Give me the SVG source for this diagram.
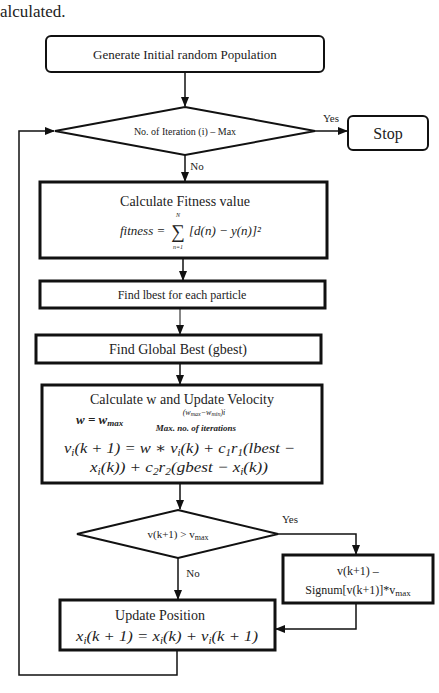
<svg xmlns="http://www.w3.org/2000/svg" width="439" height="693" viewBox="0 0 439 693">
<style>
.t{font-family:"Liberation Serif","Times New Roman",serif;fill:#222;text-anchor:middle}
.m{font-family:"Liberation Serif","DejaVu Serif",serif;font-style:italic;fill:#222}
.b2{fill:#fff;stroke:#111;stroke-width:2}
.b3{fill:#fff;stroke:#111;stroke-width:3}
.c{fill:none;stroke:#111;stroke-width:1.5}
</style>
<defs>
<marker id="ah" markerWidth="10" markerHeight="8" refX="9" refY="4" orient="auto" markerUnits="userSpaceOnUse">
<path d="M0,0 L10,4 L0,8 Z" fill="#111"/>
</marker>
</defs>
<text x="0" y="17" style="font-family:'Liberation Serif',serif;font-size:17px;fill:#222">alculated.</text>

<g id="connectors">
<line class="c" x1="185" y1="72" x2="185" y2="106" marker-end="url(#ah)"/>
<line class="c" x1="315" y1="131" x2="347" y2="131" marker-end="url(#ah)"/>
<line class="c" x1="185" y1="155" x2="185" y2="181" marker-end="url(#ah)"/>
<line class="c" x1="183" y1="258" x2="183" y2="280" marker-end="url(#ah)"/>
<line class="c" x1="180" y1="308" x2="180" y2="334" style="stroke-width:1" marker-end="url(#ah)"/>
<line class="c" x1="180" y1="363" x2="180" y2="384" marker-end="url(#ah)"/>
<line class="c" x1="180" y1="483" x2="180" y2="509" marker-end="url(#ah)"/>
<polyline class="c" points="278,534 356,534 356,554" marker-end="url(#ah)"/>
<polyline class="c" points="356,603 356,629 276,629" marker-end="url(#ah)"/>
<line class="c" x1="178" y1="558" x2="178" y2="599" marker-end="url(#ah)"/>
<polyline class="c" points="177,650 177,675 19,675 19,131 54,131" marker-end="url(#ah)"/>
<text class="t" x="331" y="122" style="font-size:11px">Yes</text>
<text class="t" x="197" y="170" style="font-size:11px">No</text>
<text class="t" x="290" y="523" style="font-size:11px">Yes</text>
<text class="t" x="193" y="577" style="font-size:11px">No</text>
</g>

<g id="start">
<rect class="b2" x="46" y="36" width="278" height="36" rx="5"/>
<text class="t" x="185" y="59" style="font-size:13px">Generate Initial random Population</text>
</g>

<g id="iter-check">
<polygon class="b2" points="185,107 315,131 185,155 55,131"/>
<text class="t" x="185" y="135" style="font-size:10px">No. of Iteration (i) – Max</text>
</g>

<g id="stop">
<rect class="b2" x="348" y="116" width="80" height="34" rx="5"/>
<text class="t" x="388" y="139" style="font-size:16px">Stop</text>
</g>

<g id="fitness">
<rect class="b3" x="40" y="182" width="287" height="76"/>
<text class="t" x="185" y="206" style="font-size:14px">Calculate Fitness value</text>
<text class="m" x="120" y="235" style="font-size:13px">fitness =</text>
<text class="t" x="178" y="238" style="font-size:19px">∑</text>
<text class="m" x="178" y="217" style="font-size:6px;text-anchor:middle">N</text>
<text class="m" x="178" y="249" style="font-size:6px;text-anchor:middle">n=1</text>
<text class="m" x="189" y="235" style="font-size:13px">[d(n) − y(n)]²</text>
</g>

<g id="lbest">
<rect class="b3" x="40" y="281" width="285" height="27"/>
<text class="t" x="182" y="299" style="font-size:12px">Find lbest for each particle</text>
</g>

<g id="gbest">
<rect class="b3" x="36" y="335" width="285" height="28"/>
<text class="t" x="178" y="354" style="font-size:14px">Find Global Best (gbest)</text>
</g>

<g id="velocity">
<rect class="b3" x="42" y="385" width="280" height="98"/>
<text class="t" x="182" y="404" style="font-size:14px">Calculate w and Update Velocity</text>
<text class="m" x="76" y="424" style="font-size:13px;font-weight:bold">w = w<tspan style="font-size:9px" dy="2">max</tspan></text>
<text class="m" x="204" y="415" style="font-size:8px;text-anchor:middle">(w<tspan style="font-size:6px" dy="1">max</tspan><tspan dy="-1">−w</tspan><tspan style="font-size:6px" dy="1">min</tspan><tspan dy="-1">)i</tspan></text>
<text class="m" x="196" y="431" style="font-size:9px;font-weight:bold;text-anchor:middle">Max. no. of iterations</text>
<text class="m" x="64" y="453" style="font-size:15px" textLength="231" lengthAdjust="spacingAndGlyphs">v<tspan style="font-size:10px" dy="3">i</tspan><tspan dy="-3">(k + 1) = w ∗ v</tspan><tspan style="font-size:10px" dy="3">i</tspan><tspan dy="-3">(k) + c</tspan><tspan style="font-size:10px" dy="3">1</tspan><tspan dy="-3">r</tspan><tspan style="font-size:10px" dy="3">1</tspan><tspan dy="-3">(lbest −</tspan></text>
<text class="m" x="90" y="472" style="font-size:15px" textLength="178" lengthAdjust="spacingAndGlyphs">x<tspan style="font-size:10px" dy="3">i</tspan><tspan dy="-3">(k)) + c</tspan><tspan style="font-size:10px" dy="3">2</tspan><tspan dy="-3">r</tspan><tspan style="font-size:10px" dy="3">2</tspan><tspan dy="-3">(gbest − x</tspan><tspan style="font-size:10px" dy="3">i</tspan><tspan dy="-3">(k))</tspan></text>
</g>

<g id="vmax-check">
<polygon class="b2" points="178,510 278,534 178,558 77,534"/>
<text class="t" x="178" y="538" style="font-size:11px">v(k+1) &gt; v<tspan style="font-size:8px" dy="2">max</tspan></text>
</g>

<g id="clamp">
<rect class="b3" x="283" y="555" width="150" height="48"/>
<text class="t" x="358" y="575" style="font-size:12px">v(k+1) –</text>
<text class="t" x="358" y="594" style="font-size:12px">Signum[v(k+1)]*v<tspan style="font-size:9px" dy="2">max</tspan></text>
</g>

<g id="position">
<rect class="b3" x="60" y="600" width="215" height="50"/>
<text class="t" x="160" y="620" style="font-size:14px">Update Position</text>
<text class="m" x="76" y="641" style="font-size:15px" textLength="182" lengthAdjust="spacingAndGlyphs">x<tspan style="font-size:10px" dy="3">i</tspan><tspan dy="-3">(k + 1) = x</tspan><tspan style="font-size:10px" dy="3">i</tspan><tspan dy="-3">(k) + v</tspan><tspan style="font-size:10px" dy="3">i</tspan><tspan dy="-3">(k + 1)</tspan></text>
</g>
</svg>
